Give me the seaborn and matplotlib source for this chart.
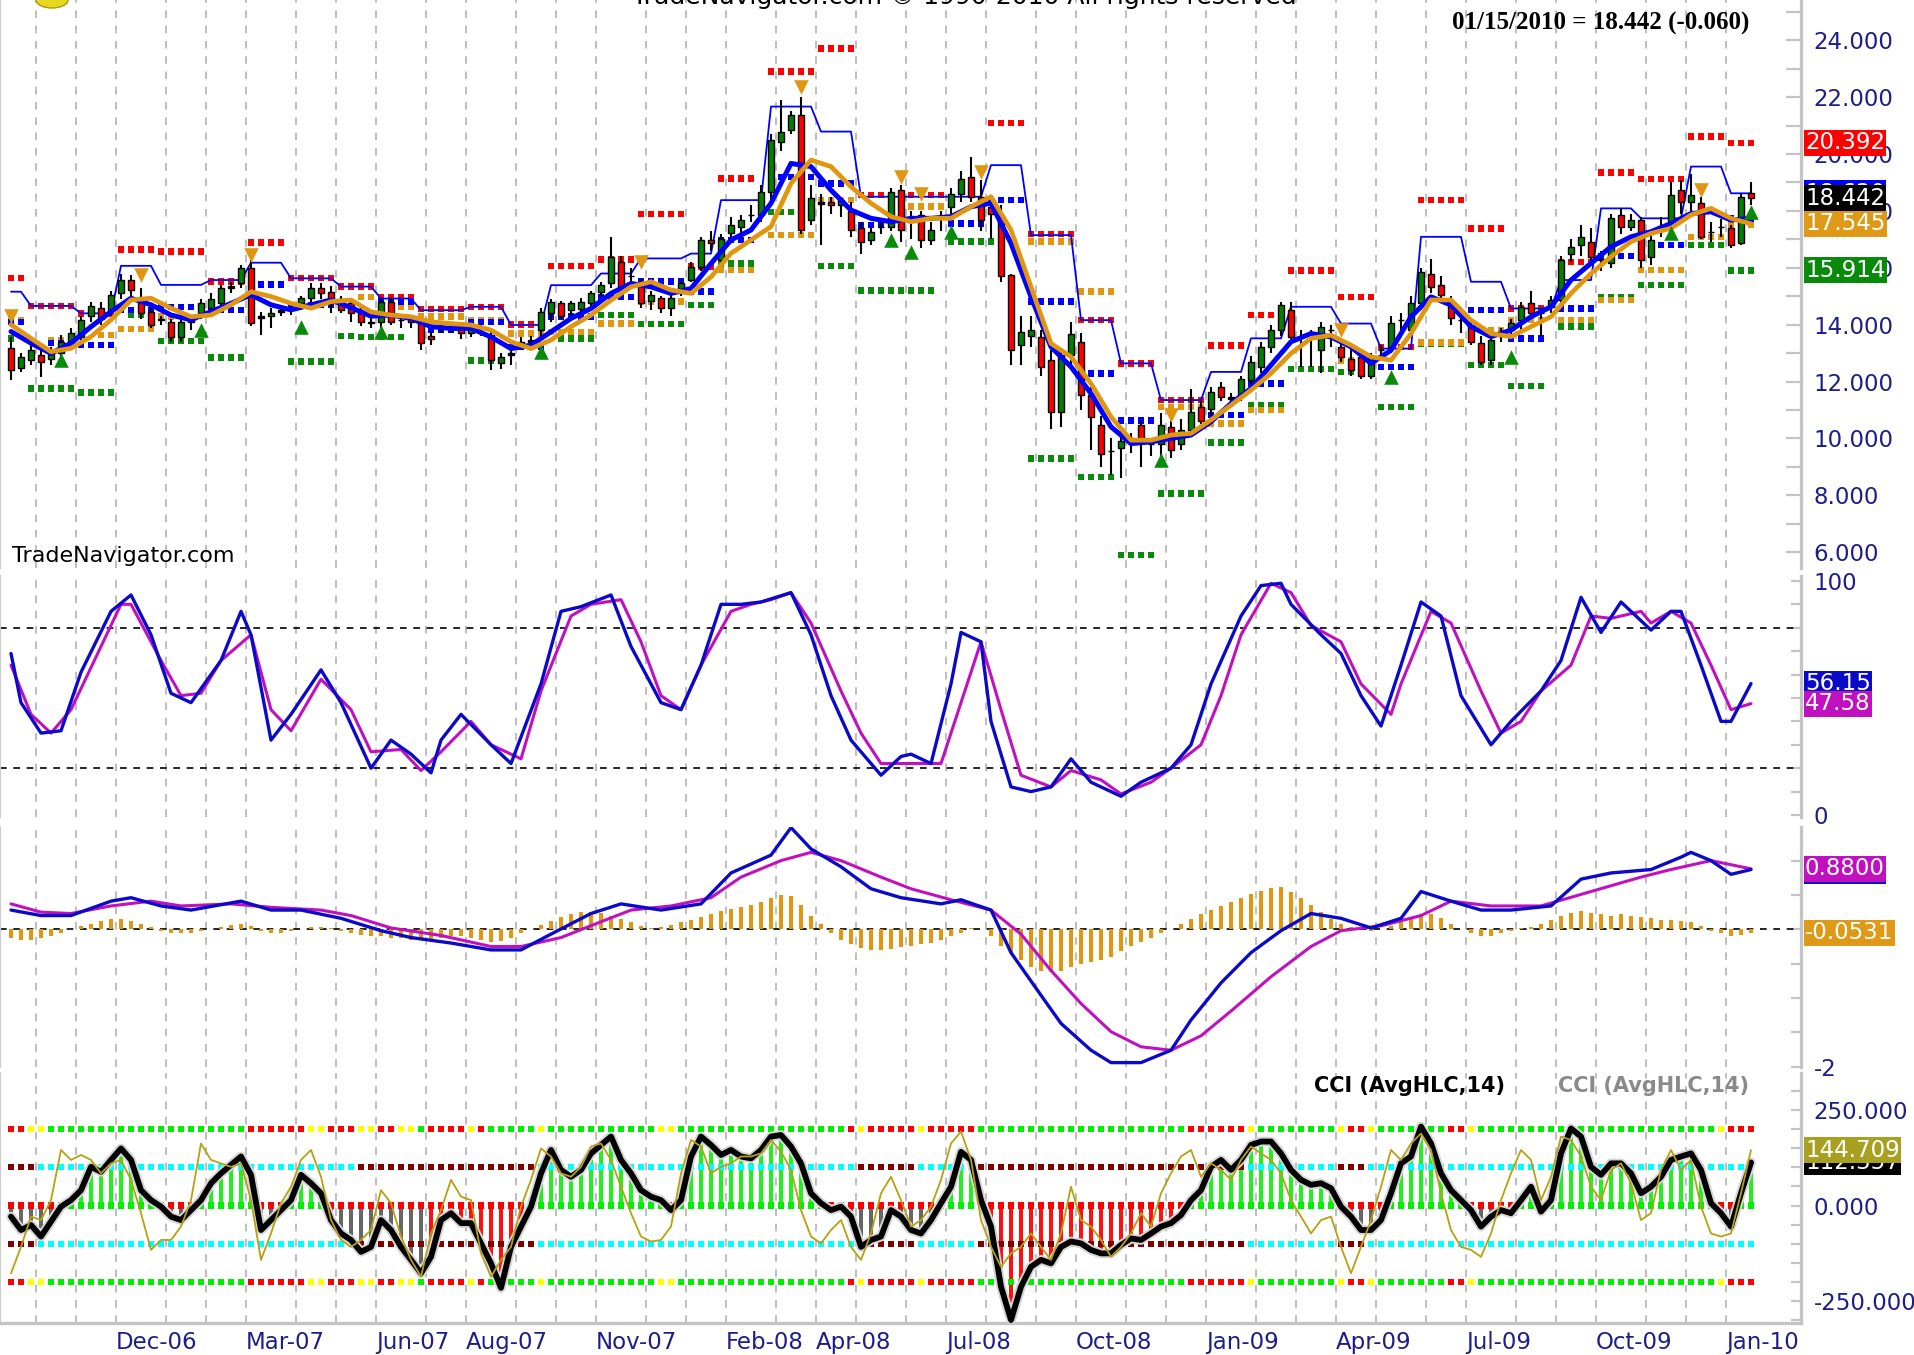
import numpy as np
import pandas as pd
import matplotlib
matplotlib.use("Agg")
import matplotlib.pyplot as plt
import matplotlib.transforms as mtransforms
from matplotlib.patches import Ellipse
import seaborn as sns

# weekly bars, the last one closes on 01/15/2010
last_date = "2010-01-15"

opens = [
    13.17, 12.47, 12.76, 12.94, 12.8, 13.0, 13.35, 13.58, 14.3, 14.58,
    14.5, 15.1, 15.57, 14.8, 14.46, 14.2, 14.1, 13.58, 14.1, 14.4,
    14.6, 14.75, 15.3, 15.45, 15.98, 14.3, 14.3, 14.45, 14.55, 14.75,
    14.95, 15.3, 15.15, 14.9, 14.75, 14.4, 14.1, 14.1, 14.8, 14.15,
    14.2, 14.05, 13.6, 13.85, 13.95, 13.85, 13.7, 13.9, 13.63, 12.65,
    12.95, 13.3, 13.4, 13.8, 14.4, 14.75, 14.5, 14.55, 14.75, 15.16,
    15.45, 16.2, 15.7, 15.45, 14.85, 14.95, 14.6, 15.1, 15.57, 16.04,
    16.97, 16.27, 17.21, 17.45, 17.85, 17.85, 18.68, 20.43, 20.84, 21.37,
    17.68, 18.3, 18.3, 18.2, 18.0, 17.39, 16.98, 17.45, 17.45, 18.73,
    17.8, 17.85, 16.98, 17.8, 18.15, 18.6, 19.2, 18.5, 18.15, 17.8,
    15.74, 13.28, 13.6, 13.58, 12.75, 10.94, 12.93, 13.4, 11.52, 10.47,
    9.55, 9.65, 9.9, 10.47, 9.8, 9.82, 10.41, 9.82, 10.3, 11.1,
    11.05, 11.82, 11.4, 11.52, 12.05, 12.5, 13.2, 13.8, 14.5, 13.58,
    13.6, 13.1, 13.8, 13.22, 12.8, 12.87, 12.2, 13.1, 13.2, 14.16,
    13.81, 14.75, 15.8, 15.4, 14.75, 14.16, 13.99, 13.34, 12.76, 13.6,
    13.81, 14.16, 14.75, 14.4, 14.63, 14.87, 16.5, 16.8, 16.92, 16.3,
    16.16, 17.86, 17.45, 17.68, 16.39, 17.45, 17.56, 18.73, 18.32, 18.27,
    17.27, 17.45, 17.39, 16.86, 18.62]
highs = [
    13.58, 13.0, 13.3, 13.23, 13.2, 13.65, 13.9, 14.3, 14.8, 14.8,
    15.2, 15.8, 15.75, 15.3, 14.6, 14.3, 14.2, 14.2, 14.3, 14.9,
    15.1, 15.4, 15.5, 16.1, 16.3, 14.45, 14.6, 14.6, 14.75, 15.0,
    15.45, 15.45, 15.35, 15.0, 14.9, 14.6, 14.3, 14.9, 14.95, 14.3,
    14.35, 14.1, 13.75, 14.1, 14.05, 14.0, 14.0, 14.0, 13.8, 13.0,
    13.1, 13.55, 13.6, 14.6, 14.9, 14.85, 14.85, 14.95, 15.2, 15.5,
    17.1, 16.4, 16.0, 15.6, 15.2, 15.0, 15.1, 15.55, 16.2, 17.1,
    17.3, 17.2, 17.8, 17.85, 18.2, 18.9, 20.7, 21.9, 21.5, 22.0,
    18.9, 18.6, 18.5, 18.5, 18.3, 17.6, 17.4, 17.6, 18.8, 18.9,
    18.0, 18.0, 17.6, 18.0, 18.8, 19.4, 19.9, 19.1, 18.3, 18.2,
    15.8, 14.3, 14.3, 13.8, 13.1, 13.1, 14.1, 13.7, 11.8, 10.8,
    10.0, 10.3, 10.2, 10.6, 10.0, 10.9, 10.6, 10.7, 11.75, 11.3,
    11.8, 12.0, 11.6, 12.2, 12.9, 13.4, 14.0, 14.8, 14.8, 13.8,
    13.8, 14.1, 14.0, 13.5, 13.2, 13.0, 13.0, 13.3, 14.3, 14.4,
    15.0, 16.0, 16.3, 15.7, 15.0, 14.4, 14.2, 13.6, 13.6, 13.9,
    14.2, 14.8, 15.2, 14.6, 15.0, 16.4, 17.0, 17.5, 17.4, 16.6,
    17.9, 18.1, 17.9, 17.8, 17.2, 17.8, 19.0, 19.1, 19.3, 18.5,
    17.6, 17.7, 17.5, 18.6, 19.0]
lows = [
    12.06, 12.35, 12.6, 12.17, 12.6, 12.9, 13.2, 13.4, 14.1, 14.0,
    14.3, 14.9, 15.0, 14.2, 13.9, 14.0, 13.4, 13.4, 13.8, 14.2,
    14.4, 14.6, 15.1, 15.3, 13.95, 13.65, 13.9, 14.3, 14.35, 14.5,
    14.8, 14.9, 14.4, 14.4, 14.1, 13.95, 13.9, 13.9, 14.0, 13.9,
    13.9, 13.1, 13.3, 13.7, 13.7, 13.5, 13.55, 13.6, 12.4, 12.45,
    12.6, 13.1, 13.2, 13.6, 14.1, 14.2, 14.3, 14.3, 14.5, 15.0,
    15.3, 15.2, 15.4, 14.6, 14.5, 14.4, 14.3, 15.0, 15.5, 15.9,
    16.6, 16.1, 17.0, 17.2, 17.6, 17.6, 18.3, 20.1, 20.7, 17.2,
    17.5, 16.8, 17.9, 17.8, 17.1, 16.5, 16.8, 17.2, 17.3, 16.9,
    17.0, 16.7, 16.8, 17.3, 17.9, 18.3, 18.3, 17.3, 17.0, 15.5,
    12.6, 12.6, 13.2, 12.2, 10.35, 10.4, 12.6, 11.0, 9.6, 9.0,
    8.7, 8.6, 9.5, 9.0, 9.4, 9.3, 9.3, 9.6, 10.2, 10.5,
    10.8, 11.3, 11.2, 11.3, 11.9, 12.3, 13.0, 13.6, 13.5, 12.5,
    12.5, 12.3, 13.2, 12.7, 12.2, 12.1, 12.1, 12.8, 13.0, 13.8,
    13.7, 14.5, 15.1, 14.9, 14.0, 13.7, 13.3, 12.6, 12.6, 13.4,
    13.6, 13.8, 14.2, 13.6, 14.4, 14.6, 16.2, 16.4, 16.2, 15.9,
    16.0, 17.2, 17.3, 16.0, 16.1, 17.1, 17.4, 17.9, 18.0, 17.0,
    16.9, 17.1, 16.7, 16.8, 18.2]
closes = [
    12.41, 12.88, 13.11, 12.7, 13.0, 13.4, 13.7, 14.17, 14.65, 14.2,
    15.05, 15.57, 15.22, 14.4, 14.0, 14.15, 13.58, 14.1, 14.15, 14.75,
    14.9, 15.3, 15.35, 15.98, 14.05, 14.25, 14.4, 14.5, 14.6, 14.95,
    15.3, 15.1, 14.75, 14.5, 14.4, 14.1, 14.05, 14.8, 14.1, 14.15,
    14.1, 13.34, 13.5, 13.95, 13.9, 13.7, 13.9, 13.85, 12.75, 12.87,
    13.0, 13.4, 13.45, 14.45, 14.8, 14.3, 14.75, 14.8, 15.1, 15.4,
    16.39, 15.34, 15.7, 14.75, 15.05, 14.6, 14.95, 15.45, 16.04, 16.97,
    16.86, 17.0, 17.5, 17.68, 17.85, 18.68, 20.49, 20.79, 21.37, 17.33,
    18.44, 18.25, 18.2, 18.4, 17.33, 16.92, 17.27, 17.45, 18.68, 17.33,
    17.8, 16.98, 17.33, 17.8, 18.6, 19.14, 18.5, 17.68, 17.9, 15.7,
    13.1, 13.75, 13.8, 12.5, 10.94, 12.93, 13.69, 11.52, 10.76, 9.47,
    9.55, 9.9, 10.0, 9.94, 9.8, 10.47, 9.6, 10.3, 10.93, 10.6,
    11.64, 11.47, 11.45, 12.1, 12.7, 13.2, 13.8, 14.69, 13.58, 13.55,
    13.6, 13.93, 13.8, 12.87, 12.4, 12.2, 12.87, 13.1, 14.05, 14.16,
    14.75, 15.86, 15.33, 15.04, 14.22, 14.16, 13.4, 12.7, 13.46, 13.7,
    14.05, 14.63, 14.4, 14.4, 14.87, 16.27, 16.74, 17.1, 16.39, 16.27,
    17.74, 17.45, 17.68, 16.27, 16.98, 17.45, 18.56, 18.32, 18.56, 17.1,
    17.27, 17.45, 16.8, 18.5, 18.442]

# moving averages, read every second week
ma_week = list(range(0, 175, 2))
ma_fast = [
    13.76, 13.35, 12.99, 13.35, 13.93, 14.46, 14.93, 14.7, 14.34, 14.17,
    14.46, 14.75, 15.05, 14.7, 14.52, 14.7, 14.87, 14.6, 14.3, 14.34,
    14.22, 13.93, 13.87, 13.87, 13.57, 13.16, 13.28, 13.75, 14.22, 14.57,
    15.1, 15.45, 15.33, 15.1, 15.27, 16.15, 16.98, 17.33, 18.27, 19.67,
    19.56, 18.73, 18.03, 17.74, 17.62, 17.74, 17.74, 17.8, 18.15, 18.27,
    16.86, 14.98, 13.22, 12.52, 11.58, 10.41, 9.82, 9.88, 10.0, 10.12,
    10.59, 11.23, 11.76, 12.58, 13.4, 13.69, 13.57, 13.22, 12.64, 13.1,
    14.28, 14.98, 14.69, 13.93, 13.58, 13.81, 14.28, 14.63, 15.57, 16.16,
    16.74, 17.09, 17.27, 17.56, 17.91, 17.97, 17.68, 17.74]
ma_slow = [
    14.0, 13.52, 13.05, 13.17, 13.58, 14.17, 14.87, 14.93, 14.58, 14.28,
    14.34, 14.7, 15.16, 14.99, 14.75, 14.58, 14.81, 14.87, 14.45, 14.34,
    14.28, 14.1, 14.04, 13.99, 13.81, 13.4, 13.16, 13.46, 13.93, 14.34,
    14.86, 15.33, 15.51, 15.22, 15.1, 15.68, 16.51, 16.98, 17.45, 18.97,
    19.79, 19.56, 18.85, 18.27, 17.8, 17.62, 17.74, 17.74, 18.15, 18.5,
    17.33, 15.33, 13.34, 12.87, 11.93, 10.76, 9.94, 9.94, 10.12, 10.18,
    10.65, 11.17, 11.7, 12.29, 12.99, 13.52, 13.63, 13.28, 12.87, 12.75,
    13.69, 14.87, 14.87, 14.16, 13.69, 13.58, 13.93, 14.28, 15.1, 15.8,
    16.39, 16.92, 17.21, 17.39, 17.86, 18.09, 17.74, 17.545]

# upper channel: first week of each step and its level
channel_start = [0, 2, 7, 11, 15, 20, 24, 28, 33, 37, 41, 46, 50, 54, 59, 63, 68, 71, 76, 81,
                 85, 98, 102, 107, 111, 115, 120, 124, 128, 133, 137, 141, 146, 150, 155, 159,
                 163, 168, 172]
channel_level = [15.16, 14.66, 14.4, 16.07, 15.4, 15.57, 16.18, 15.63, 15.34, 14.92, 14.51,
                 14.63, 13.99, 15.39, 15.8, 16.33, 16.5, 18.38, 21.67, 20.79, 18.5, 19.61,
                 17.15, 14.16, 12.64, 11.35, 12.34, 13.52, 14.63, 14.04, 13.16, 17.09, 15.51,
                 14.57, 15.57, 18.09, 17.74, 19.56, 18.62]

# dotted levels: (first week, last week, price)
resistance_runs = [
    (0, 1, 15.65), (2, 6, 14.66), (7, 10, 14.4), (11, 14, 16.65), (15, 19, 16.57),
    (20, 23, 15.51), (24, 27, 16.89), (28, 32, 15.65), (33, 36, 15.34), (37, 40, 14.95),
    (41, 45, 14.55), (46, 49, 14.63), (50, 53, 14.01), (54, 58, 16.06), (59, 62, 16.3),
    (63, 67, 17.89), (68, 70, 16.04), (71, 74, 19.14), (76, 80, 22.9), (81, 84, 23.72),
    (85, 93, 18.56), (98, 101, 21.1), (102, 106, 17.19), (107, 110, 14.16), (111, 114, 12.64),
    (115, 119, 11.35), (120, 123, 13.26), (124, 127, 14.34), (128, 132, 15.9), (133, 136, 14.98),
    (137, 140, 13.22), (141, 145, 18.38), (146, 149, 17.39), (150, 153, 14.57), (155, 158, 16.21),
    (159, 162, 19.36), (163, 167, 19.12), (168, 171, 20.61), (172, 174, 20.392)]
support_runs = [
    (0, 0, 13.52), (2, 6, 11.76), (7, 10, 11.62), (12, 14, 14.34), (15, 19, 13.43),
    (20, 23, 12.84), (28, 32, 12.7), (33, 34, 13.6), (35, 39, 13.57), (46, 49, 12.75),
    (55, 58, 13.52), (59, 62, 14.34), (63, 67, 14.02), (68, 70, 14.69), (71, 74, 16.16),
    (76, 80, 17.97), (81, 84, 16.06), (85, 92, 15.2), (94, 99, 16.92), (102, 106, 9.3),
    (107, 110, 8.65), (111, 114, 5.9), (115, 119, 8.07), (120, 123, 9.86), (124, 127, 11.17),
    (128, 132, 12.44), (133, 136, 12.34), (137, 140, 11.11), (141, 145, 13.34), (146, 149, 12.58),
    (150, 153, 11.85), (155, 158, 13.93), (159, 162, 14.98), (163, 167, 15.39), (168, 171, 16.8),
    (172, 174, 15.914)]
pivot_runs = [
    (0, 1, 14.17), (4, 6, 13.46), (9, 10, 13.64), (11, 14, 13.85), (15, 16, 14.28),
    (35, 36, 14.98), (37, 40, 14.63), (41, 45, 14.28), (46, 49, 14.16), (50, 53, 13.69),
    (54, 58, 13.75), (59, 62, 14.04), (63, 67, 14.81), (71, 74, 15.92), (76, 80, 17.15),
    (81, 84, 18.38), (90, 93, 18.15), (99, 101, 18.38), (102, 106, 16.92), (107, 110, 15.16),
    (115, 119, 11.1), (120, 123, 10.53), (124, 127, 11.0), (133, 134, 12.75), (141, 145, 13.38),
    (146, 149, 13.81), (150, 153, 14.16), (155, 158, 14.16), (159, 162, 14.87), (163, 167, 15.92),
    (168, 171, 17.09), (172, 174, 17.5)]
midline_runs = [
    (0, 1, 14.1), (4, 6, 13.35), (7, 10, 13.29), (11, 14, 14.52), (15, 19, 14.63),
    (20, 23, 14.52), (24, 27, 15.42), (28, 32, 14.7), (37, 40, 14.81), (41, 45, 13.81),
    (46, 49, 14.1), (50, 53, 13.22), (54, 58, 14.28), (59, 62, 14.98), (63, 67, 15.51),
    (68, 70, 15.16), (71, 74, 16.98), (76, 80, 19.2), (81, 84, 18.97), (85, 89, 17.5),
    (94, 97, 17.56), (98, 101, 18.38), (102, 106, 14.81), (107, 110, 12.29), (111, 114, 10.64),
    (120, 123, 10.82), (124, 127, 11.93), (137, 140, 12.52), (146, 149, 14.51), (150, 153, 13.52),
    (155, 158, 14.57), (159, 162, 16.41), (163, 167, 16.8), (172, 174, 17.74)]

# swing markers
peak_week = [0, 13, 24, 63, 79, 89, 91, 97, 116, 133, 169]
peak_level = [14.3, 15.75, 16.45, 16.2, 22.37, 19.2, 18.6, 19.38, 10.82, 13.81, 18.73]
trough_week = [5, 19, 29, 37, 53, 88, 90, 94, 115, 138, 150, 166, 174]
trough_level = [12.76, 13.81, 13.93, 13.75, 13.05, 16.98, 16.57, 17.27, 9.24, 12.17, 12.87, 17.21, 17.97]

# stochastic
stoch_k_week = [0, 1, 3, 5, 7, 10, 12, 14, 16, 18, 21, 23, 24, 26, 28, 31, 33, 36, 38, 40, 42,
                43, 45, 48, 50, 53, 55, 57, 60, 62, 65, 67, 69, 71, 73, 75, 78, 80, 82, 84, 87,
                89, 90, 92, 94, 95, 97, 98, 100, 102, 104, 106, 108, 111, 113, 116, 118, 120,
                123, 125, 127, 128, 131, 133, 135, 137, 139, 141, 143, 145, 148, 150, 153, 155,
                157, 159, 161, 164, 166, 167, 169, 171, 172, 174]
stoch_k = [69, 48, 35, 36, 61, 87, 94, 77, 52, 48, 66, 87, 77, 32, 43, 62, 48, 20, 32, 26, 18,
           32, 43, 30, 22, 56, 87, 89, 94, 72, 48, 45, 64, 90, 90, 91, 95, 77, 51, 32, 17, 25,
           26, 22, 56, 78, 74, 40, 12, 10, 12, 24, 14, 8, 14, 20, 30, 56, 85, 98, 99, 90, 77,
           69, 51, 38, 64, 91, 85, 51, 30, 40, 53, 66, 93, 78, 91, 79, 87, 87, 64, 40, 40, 56.15]
stoch_d_week = [0, 2, 4, 6, 9, 11, 12, 15, 17, 19, 21, 24, 26, 28, 31, 34, 36, 39, 41, 43, 46,
                48, 51, 53, 56, 58, 61, 63, 65, 67, 69, 72, 74, 76, 78, 80, 83, 85, 87, 90, 93,
                95, 97, 99, 101, 104, 106, 109, 111, 114, 116, 119, 121, 123, 126, 128, 130,
                133, 135, 138, 139, 142, 144, 147, 149, 151, 153, 156, 158, 160, 163, 164, 166,
                168, 170, 172, 174]
stoch_d = [64, 43, 35, 45, 72, 90, 90, 66, 51, 52, 66, 77, 45, 36, 58, 45, 27, 28, 19, 27, 40,
           30, 24, 53, 85, 90, 92, 74, 51, 45, 64, 87, 90, 92, 95, 82, 53, 35, 22, 22, 22, 48,
           74, 45, 17, 12, 19, 15, 9, 14, 20, 30, 51, 77, 99, 95, 81, 74, 56, 43, 56, 87, 82,
           53, 35, 40, 53, 64, 85, 84, 87, 82, 87, 82, 64, 45, 47.58]

# MACD
macd_week = [0, 3, 6, 10, 12, 15, 18, 23, 26, 29, 33, 37, 40, 44, 48, 51, 54, 58, 61, 65, 69,
             72, 76, 78, 80, 83, 86, 89, 93, 95, 98, 100, 103, 105, 108, 110, 113, 116, 118,
             121, 124, 127, 130, 133, 136, 139, 141, 144, 147, 150, 154, 157, 160, 164, 167,
             168, 170, 172, 174]
macd_line = [0.28, 0.2, 0.2, 0.41, 0.46, 0.34, 0.28, 0.41, 0.28, 0.28, 0.16, -0.02, -0.12,
             -0.2, -0.3, -0.3, -0.07, 0.23, 0.37, 0.28, 0.37, 0.82, 1.08, 1.48, 1.17, 0.91,
             0.59, 0.46, 0.37, 0.43, 0.28, -0.34, -0.96, -1.37, -1.76, -1.94, -1.94, -1.76,
             -1.32, -0.78, -0.34, -0.02, 0.23, 0.16, 0.02, 0.16, 0.55, 0.41, 0.28, 0.28, 0.34,
             0.73, 0.82, 0.87, 1.05, 1.12, 1.0, 0.8, 0.87]
signal_week = [0, 3, 6, 10, 14, 17, 22, 26, 31, 34, 38, 43, 48, 51, 55, 59, 62, 66, 70, 73, 77,
               80, 83, 87, 90, 94, 98, 101, 104, 107, 110, 113, 116, 119, 122, 126, 130, 133,
               137, 141, 144, 148, 153, 158, 163, 166, 170, 174]
signal_line = [0.37, 0.25, 0.23, 0.34, 0.41, 0.34, 0.37, 0.32, 0.28, 0.2, 0.02, -0.09, -0.25,
               -0.25, -0.12, 0.11, 0.28, 0.34, 0.46, 0.76, 1.0, 1.12, 1.0, 0.76, 0.59, 0.43,
               0.28, -0.07, -0.6, -1.08, -1.49, -1.71, -1.76, -1.55, -1.19, -0.69, -0.25, -0.02,
               0.05, 0.2, 0.41, 0.34, 0.34, 0.55, 0.76, 0.87, 1.0, 0.88]
macd_hist = [
    -0.12, -0.15, -0.15, -0.12, -0.1, -0.05, 0.0, 0.05, 0.08, 0.12,
    0.15, 0.15, 0.12, 0.08, 0.03, -0.02, -0.05, -0.06, -0.05, -0.03,
    0.0, 0.04, 0.06, 0.07, 0.05, -0.02, -0.06, -0.05, -0.03, 0.0,
    0.03, 0.04, 0.02, -0.02, -0.05, -0.08, -0.1, -0.1, -0.12, -0.13,
    -0.15, -0.16, -0.14, -0.12, -0.1, -0.1, -0.12, -0.15, -0.18, -0.17,
    -0.12, -0.06, 0.0, 0.06, 0.12, 0.18, 0.22, 0.25, 0.25, 0.24,
    0.2, 0.15, 0.1, 0.05, 0.02, 0.03, 0.06, 0.1, 0.14, 0.18,
    0.22, 0.26, 0.3, 0.32, 0.36, 0.4, 0.46, 0.5, 0.48, 0.35,
    0.2, 0.08, -0.05, -0.15, -0.22, -0.27, -0.3, -0.3, -0.28, -0.26,
    -0.24, -0.22, -0.2, -0.15, -0.1, -0.05, 0.02, 0.0, -0.1, -0.25,
    -0.35, -0.45, -0.55, -0.6, -0.62, -0.6, -0.55, -0.5, -0.48, -0.45,
    -0.4, -0.32, -0.25, -0.18, -0.12, -0.06, 0.0, 0.08, 0.15, 0.22,
    0.28, 0.34, 0.4, 0.46, 0.52, 0.56, 0.6, 0.62, 0.55, 0.45,
    0.35, 0.25, 0.15, 0.08, 0.03, 0.0, -0.02, 0.0, 0.05, 0.1,
    0.15, 0.22, 0.22, 0.16, 0.08, 0.0, -0.06, -0.1, -0.1, -0.06,
    -0.02, 0.02, 0.04, 0.08, 0.14, 0.2, 0.24, 0.26, 0.24, 0.22,
    0.2, 0.22, 0.2, 0.18, 0.16, 0.14, 0.14, 0.12, 0.1, 0.05,
    -0.02, -0.06, -0.1, -0.08, -0.0531]

# CCI (AvgHLC,14) and the faster CCI drawn thin
cci = [
    -29, -64, -51, -81, -42, -3, 14, 40, 101, 88,
    119, 149, 119, 40, 14, -3, -29, -38, -12, 14,
    58, 84, 106, 128, 80, -64, -38, -12, 14, 80,
    58, 32, -38, -73, -90, -121, -108, -38, -64, -108,
    -142, -177, -134, -38, -20, -46, -46, -99, -151, -215,
    -108, -55, -3, 84, 145, 93, 75, 93, 136, 158,
    180, 119, 84, 40, 23, 14, -12, 14, 128, 180,
    158, 132, 145, 128, 123, 145, 180, 184, 154, 110,
    32, 6, -12, -3, -29, -108, -90, -81, -12, -29,
    -64, -73, -38, 6, 49, 140, 119, 14, -55, -212,
    -299, -212, -160, -142, -151, -108, -94, -99, -116, -125,
    -125, -103, -86, -90, -73, -55, -46, -25, 14, 40,
    101, 119, 93, 119, 158, 167, 167, 136, 93, 67,
    54, 58, 45, -3, -29, -64, -64, -38, 32, 110,
    128, 206, 162, 84, 40, 14, -12, -55, -29, -12,
    -20, 14, 49, -16, 14, 136, 201, 180, 101, 80,
    110, 110, 84, 32, 49, 75, 119, 128, 136, 93,
    6, -20, -55, 32, 112.357]
cci_fast = [
    -177, -108, -29, -38, 14, 145, 119, 132, 119, 84,
    110, 119, 67, -20, -116, -90, -90, -55, 14, 162,
    119, 110, 101, 110, 14, -142, -73, 6, 49, 119,
    145, 75, -38, -90, -108, -90, -64, 40, 6, -81,
    -142, -186, -73, -12, 67, 23, 14, -125, -186, -142,
    -108, -3, 67, 149, 128, 84, 75, 101, 154, 162,
    119, 49, -20, -81, -94, -90, -55, 84, 171, 154,
    84, 101, 110, 128, 128, 136, 171, 141, 93, -12,
    -81, -99, -64, -38, -108, -142, -73, 32, 75, 14,
    -55, -38, -3, 67, 162, 193, 119, -38, -108, -160,
    -125, -108, -73, -108, -142, -73, 49, -38, -55, -90,
    -134, -108, -73, -20, -55, 32, 84, 128, 145, 75,
    110, 93, 67, 119, 154, 136, 119, 84, 14, -29,
    -73, -38, -29, -108, -177, -108, -38, 49, 145, 119,
    162, 188, 145, 32, -64, -108, -116, -134, -73, 14,
    84, 145, 119, 14, 75, 180, 171, 128, 49, 14,
    93, 110, 58, -38, -20, 93, 145, 93, 119, -3,
    -73, -81, -73, 32, 144.709]

# state of the +/-200 band dots and of the +/-100 zone dots (first week of each run)
band_start = [0, 2, 4, 24, 30, 32, 35, 37, 39, 41, 42, 46, 47, 48, 53, 54, 65, 67, 84, 85,
              86, 91, 92, 97, 118, 124, 125, 133, 134, 136, 137, 144, 146, 147, 171, 172]
band_state = ["down", "flat", "up", "down", "flat", "down", "flat", "down", "flat", "up",
              "down", "flat", "down", "up", "flat", "up", "flat", "up", "down", "flat",
              "down", "flat", "down", "up", "down", "flat", "up", "flat", "down", "flat",
              "up", "down", "flat", "up", "flat", "down"]
zone_start = [0, 3, 35, 53, 85, 91, 97, 124, 133, 136]
zone_state = ["hot", "cool", "hot", "cool", "hot", "cool", "hot", "cool", "hot", "cool"]
bear_start = [42, 97]
bear_end = [52, 117]

month_labels = ["Dec-06", "Mar-07", "Jun-07", "Aug-07", "Nov-07", "Feb-08", "Apr-08",
                "Jul-08", "Oct-08", "Jan-09", "Apr-09", "Jul-09", "Oct-09", "Jan-10"]

# ---------------------------------------------------------------------------

NAVY = "#1e1e86"
BLUE = "#0000ff"
ORANGE = "#e0960f"
RED = "#ff0000"
GREEN = "#0a8a0a"
MAGENTA = "#c010c0"
AXGRAY = "#c4c4c4"

sns.set_theme(style="white")
plt.rcParams["font.family"] = ["DejaVu Sans"]

n = len(closes)
week = pd.DataFrame({"open": opens, "high": highs, "low": lows, "close": closes,
                     "cci": cci, "cci_fast": cci_fast, "hist": macd_hist})
week["date"] = pd.date_range(end=last_date, periods=n, freq="W-FRI")
bars = np.arange(n)

month_edges = [i - 0.5 for i in range(1, n) if week.date[i].month != week.date[i - 1].month]
edge_names = [week.date[i].strftime("%b-%y") for i in range(1, n)
              if week.date[i].month != week.date[i - 1].month]

W, H = 1915, 1355
fig = plt.figure(figsize=(W / 100, H / 100), dpi=100)


def panel(top, bottom):
    return fig.add_axes([0, 1 - bottom / H, 1801 / W, (bottom - top) / H])


def base_style(ax, ylim, tick_len=7):
    ax.set_xlim(-1.1, 179.0)
    ax.set_ylim(*ylim)
    ax.set_facecolor("white")
    ax.spines["top"].set_visible(False)
    ax.spines["bottom"].set_visible(False)
    ax.spines["left"].set_color("#cccccc")
    ax.spines["left"].set_linewidth(1.6)
    ax.spines["right"].set_color(AXGRAY)
    ax.spines["right"].set_linewidth(2.4)
    ax.yaxis.tick_right()
    ax.tick_params(axis="y", which="both", direction="in", color=AXGRAY, labelcolor=NAVY,
                   labelsize=16.5, pad=9, width=1.6, length=tick_len)
    ax.set_xticks([])
    for e in month_edges:
        ax.axvline(e, color="#acacac", lw=1.1, ls=(0, (5, 5)), zorder=0)


def tag(ax, y, text, bg, fg="white"):
    tr = mtransforms.blended_transform_factory(ax.transAxes, ax.transData)
    ax.text(1 + 4 / 1801, y, text, transform=tr, ha="left", va="center", fontsize=16.5,
            color=fg, bbox=dict(boxstyle="square,pad=0.06", fc=bg, ec="none"),
            zorder=30, clip_on=False)


ax_p = panel(0, 568)
ax_s = panel(576, 817)
ax_m = panel(827, 1067)
ax_c = panel(1073, 1323)

# --- price panel
base_style(ax_p, (5.445, 25.417), tick_len=11)
ax_p.set_yticks(np.arange(6, 25, 2), [f"{v:.3f}" for v in np.arange(6, 25, 2)])
ax_p.set_yticks(np.arange(6, 26, 1), minor=True)

dots = []
for kind, runs in [("resistance", resistance_runs), ("support", support_runs),
                   ("pivot", pivot_runs), ("midline", midline_runs)]:
    for s, e, lvl in runs:
        for b in range(s, e + 1):
            dots.append((b, lvl, kind))
dots = pd.DataFrame(dots, columns=["bar", "level", "kind"])
sns.scatterplot(data=dots, x="bar", y="level", hue="kind", marker="s", s=22, linewidth=0,
                palette={"resistance": RED, "support": GREEN, "pivot": ORANGE, "midline": BLUE},
                legend=False, ax=ax_p, zorder=2)

channel = np.repeat(channel_level, np.diff(channel_start + [n]))
sns.lineplot(x=bars, y=channel, color=BLUE, lw=1.3, ax=ax_p, zorder=3, estimator=None)

o = week["open"].to_numpy()
c = week["close"].to_numpy()
body_col = np.where(np.abs(c - o) < 0.06, "black", np.where(c > o, "#008000", RED))
ax_p.vlines(bars, week["low"], week["high"], color="black", lw=1.5, zorder=4)
ax_p.bar(bars, c - o, bottom=o, width=0.55, color=body_col, edgecolor="black",
         linewidth=1.0, zorder=5)

sns.lineplot(x=ma_week, y=ma_fast, color=BLUE, lw=3.6, ax=ax_p, zorder=6, estimator=None)
sns.lineplot(x=ma_week, y=ma_slow, color=ORANGE, lw=3.4, ax=ax_p, zorder=7, estimator=None)

ax_p.scatter(peak_week, peak_level, marker="v", s=110, color=ORANGE, lw=0, zorder=8)
ax_p.scatter(trough_week, trough_level, marker="^", s=110, color=GREEN, lw=0, zorder=8)

ax_p.text(1749 / 1801, 1 - 23 / 568, f"{week.date.iloc[-1]:%m/%d/%Y} = {closes[-1]:.3f} (-0.060)",
          transform=ax_p.transAxes, ha="right", va="center", fontsize=18, weight="bold",
          family="Liberation Serif", color="black", zorder=20)
ax_p.text(12 / 1801, 1 - 556 / 568, "TradeNavigator.com", transform=ax_p.transAxes,
          ha="left", va="center", fontsize=16, color="black", zorder=20)

tag(ax_p, resistance_runs[-1][2], f"{resistance_runs[-1][2]:.3f}", RED)
tag(ax_p, channel_level[-1], f"{channel_level[-1]:.3f}", BLUE)
tag(ax_p, closes[-1], f"{closes[-1]:.3f}", "black")
tag(ax_p, ma_slow[-1], f"{ma_slow[-1]:.3f}", "#de9a17")
tag(ax_p, support_runs[-1][2], f"{support_runs[-1][2]:.3f}", "#0a8a0a")

# --- stochastic
base_style(ax_s, (-0.85, 102.1))
ax_s.set_yticks([0, 100], ["0", "100"])
ax_s.set_yticks(np.arange(10, 100, 10), minor=True)
for lvl in (80, 20):
    ax_s.axhline(lvl, color="black", lw=1.2, ls=(0, (4, 4)), zorder=1)
sns.lineplot(x=stoch_d_week, y=stoch_d, color=MAGENTA, lw=2.2, ax=ax_s, zorder=3, estimator=None)
sns.lineplot(x=stoch_k_week, y=stoch_k, color="#0a0ac8", lw=2.4, ax=ax_s, zorder=4, estimator=None)
tag(ax_s, stoch_k[-1], f"{stoch_k[-1]:.2f}", "#0a0ac8")
tag(ax_s, stoch_d[-1], f"{stoch_d[-1]:.2f}", MAGENTA)

# --- MACD
base_style(ax_m, (-2.004, 1.489))
ax_m.set_yticks([-2], ["-2"])
ax_m.set_yticks(np.arange(-1.5, 1.5, 0.5), minor=True)
ax_m.axhline(0, color="black", lw=1.2, ls=(0, (4, 4)), zorder=1)
ax_m.bar(bars, week["hist"], width=0.42, color=ORANGE, linewidth=0, zorder=2)
sns.lineplot(x=signal_week, y=signal_line, color=MAGENTA, lw=2.2, ax=ax_m, zorder=3, estimator=None)
sns.lineplot(x=macd_week, y=macd_line, color="#0a0ac8", lw=2.4, ax=ax_m, zorder=4, estimator=None)
tag(ax_m, macd_line[-1] - 0.03, f"{macd_line[-1]:.4f}", "#0a0ac8")
tag(ax_m, signal_line[-1], f"{signal_line[-1]:.4f}", MAGENTA)
tag(ax_m, macd_hist[-1], f"{macd_hist[-1]:.4f}", "#de9a17")

# --- CCI
base_style(ax_c, (-306.8, 346.0))
ax_c.set_yticks([-250, 0, 250], ["-250.000", "0.000", "250.000"])
ax_c.set_yticks(np.arange(-300, 301, 50), minor=True)
ax_c.spines["bottom"].set_visible(True)
ax_c.spines["bottom"].set_color(AXGRAY)
ax_c.spines["bottom"].set_linewidth(2.4)

cv = week["cci"].to_numpy()
bear = np.zeros(n, dtype=bool)
for s, e in zip(bear_start, bear_end):
    bear[s:e + 1] = True
bar_col = np.where(cv > 0, "#22ee22", np.where(bear, "#ff1010", "#666666"))
ax_c.bar(bars, cv, width=0.42, color=bar_col, linewidth=0, zorder=2)

band = np.repeat(band_state, np.diff(band_start + [n]))
zone = np.repeat(zone_state, np.diff(zone_start + [n]))
band_col = pd.Series(band).map({"up": "#00ee00", "down": "#ff0000", "flat": "#ffff00"})
zone_col = pd.Series(zone).map({"hot": "#800000", "cool": "#00ffff"})
zero_col = np.where(cv > 0, "#00ee00", "#ff0000")
for lvl, cols in [(200, band_col), (-200, band_col), (100, zone_col), (-100, zone_col),
                  (0, zero_col)]:
    ax_c.scatter(bars, np.full(n, lvl), marker="s", s=20, c=list(cols), linewidths=0, zorder=3)

sns.lineplot(x=bars, y=cv, color="#d6d6d6", lw=7, ax=ax_c, zorder=4, estimator=None)
sns.lineplot(x=bars, y=cv, color="black", lw=4.2, ax=ax_c, zorder=5, estimator=None)
sns.lineplot(x=bars, y=week["cci_fast"], color="#b8a010", lw=1.3, ax=ax_c, zorder=6,
             estimator=None)

ax_c.text(1505 / 1801, 1 - 13 / 250, "CCI (AvgHLC,14)", transform=ax_c.transAxes, ha="right",
          va="center", fontsize=15, weight="bold", color="black", zorder=20)
ax_c.text(1749 / 1801, 1 - 13 / 250, "CCI (AvgHLC,14)", transform=ax_c.transAxes, ha="right",
          va="center", fontsize=15, weight="bold", color="#8a8a8a", zorder=20)
tag(ax_c, cci[-1], f"{cci[-1]:.3f}", "black")
tag(ax_c, cci_fast[-1], f"{cci_fast[-1]:.3f}", "#a8a020")

tick_pos = [e for e, name in zip(month_edges, edge_names) if name in month_labels]
tick_txt = [name for name in edge_names if name in month_labels]
ax_c.set_xticks(tick_pos, tick_txt)
ax_c.tick_params(axis="x", length=0, labelcolor=NAVY, labelsize=16.5, pad=6)
for lbl in ax_c.get_xticklabels():
    lbl.set_ha("left")

# seaborn puts column names on the axes, the original has none
for ax in (ax_p, ax_s, ax_m, ax_c):
    ax.set_xlabel("")
    ax.set_ylabel("")

# header strip, cut off at the top in the original
fig.text(964 / W, 1 - 4 / H, "TradeNavigator.com \u00a9 1990-2010 All rights reserved",
         ha="center", va="baseline", fontsize=18, color="black")
fig.add_artist(Ellipse((52 / W, 1.0), 32 / W, 16 / H, transform=fig.transFigure,
                       fc="#e8d820", ec="#a89a10", lw=1))

fig.savefig("out.png", dpi=100)
